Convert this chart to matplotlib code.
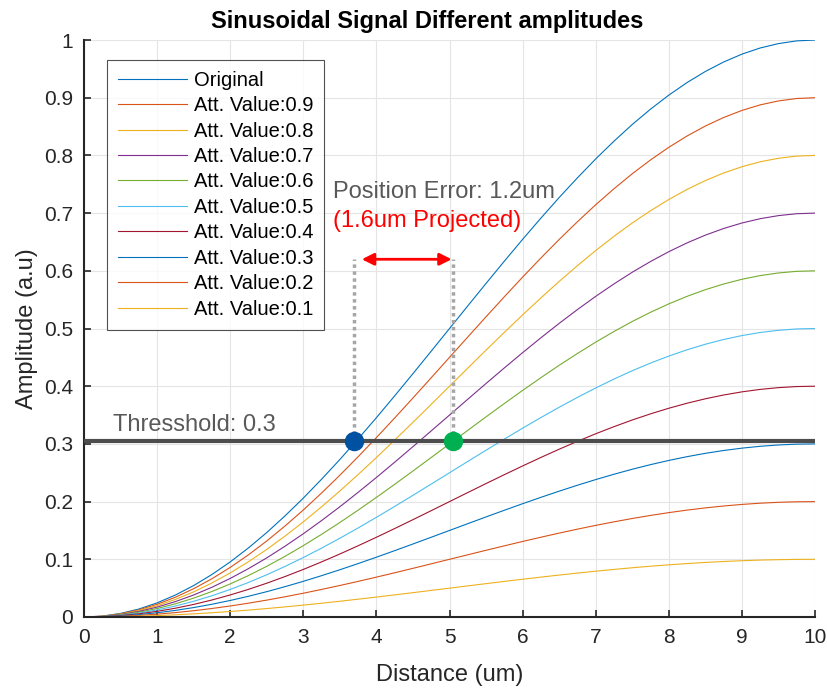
"""
Sinusoidal signal with different attenuation values and a detection threshold.
"""

import numpy as np
import matplotlib.pyplot as plt

plt.rcParams['font.family'] = ['Liberation Sans', 'DejaVu Sans']

# Distance samples (um) and the original (unattenuated) amplitude
distance = [0.0, 0.25, 0.5, 0.75, 1.0, 1.25, 1.5, 1.75, 2.0, 2.25, 2.5, 2.75,
            3.0, 3.25, 3.5, 3.75, 4.0, 4.25, 4.5, 4.75, 5.0, 5.25, 5.5, 5.75,
            6.0, 6.25, 6.5, 6.75, 7.0, 7.25, 7.5, 7.75, 8.0, 8.25, 8.5, 8.75,
            9.0, 9.25, 9.5, 9.75, 10.0]
original = [0.0, 0.0015, 0.0062, 0.0138, 0.0245, 0.0381, 0.0545, 0.0737,
            0.0955, 0.1198, 0.1464, 0.1753, 0.2061, 0.2388, 0.2730, 0.3087,
            0.3455, 0.3833, 0.4218, 0.4608, 0.5, 0.5392, 0.5782, 0.6167,
            0.6545, 0.6913, 0.7270, 0.7612, 0.7939, 0.8247, 0.8536, 0.8802,
            0.9045, 0.9263, 0.9455, 0.9619, 0.9755, 0.9862, 0.9938, 0.9985, 1.0]

att_values = [0.9, 0.8, 0.7, 0.6, 0.5, 0.4, 0.3, 0.2, 0.1]

threshold = 0.305
cross_original = 3.7   # where the original crosses the threshold
cross_attenuated = 5.05  # where Att. 0.6 crosses the threshold
marker_top = 0.62

# MATLAB default colour order
colors = ['#0072BD', '#D95319', '#EDB120', '#7E2F8E', '#77AC30',
          '#4DBEEE', '#A2142F']


def main():
    fig = plt.figure(figsize=(8.27, 6.9), dpi=100)
    ax = fig.add_axes([0.1016, 0.1058, 0.8839, 0.8362])

    x = np.array(distance)
    y0 = np.array(original)

    ax.plot(x, y0, color=colors[0], linewidth=0.8, label='Original')
    for i, att in enumerate(att_values):
        ax.plot(x, att * y0, color=colors[(i + 1) % len(colors)],
                linewidth=0.8, label=f'Att. Value:{att}')

    # Threshold line
    ax.plot([0, 10], [threshold, threshold], color='#4D4D4D', linewidth=3,
            solid_capstyle='butt', zorder=3)
    ax.text(0.4, 0.333, 'Thresshold: 0.3', color='#595959', fontsize=17,
            va='center', ha='left')

    # Dotted guides up from the crossing points
    for xc in (cross_original, cross_attenuated):
        ax.plot([xc, xc], [threshold, marker_top], color='#A6A6A6',
                linewidth=2.5, linestyle=(0, (1, 1)), zorder=2)

    ax.plot(cross_original, threshold, 'o', color='#0051A2', markersize=13,
            zorder=4)
    ax.plot(cross_attenuated, threshold, 'o', color='#00B050', markersize=13,
            zorder=4)

    # Error arrow
    ax.annotate('', xy=(5.03, marker_top), xytext=(3.8, marker_top),
                arrowprops=dict(arrowstyle='<|-|>', color='#FF0000', lw=2,
                                mutation_scale=18, shrinkA=0, shrinkB=0))
    ax.text(3.4, 0.737, 'Position Error: 1.2um', color='#595959', fontsize=17,
            va='center', ha='left')
    ax.text(3.4, 0.687, '(1.6um Projected)', color='#FF0000', fontsize=17,
            va='center', ha='left')

    ax.set_xlim(0, 10)
    ax.set_ylim(0, 1)
    ax.set_xticks(np.arange(0, 11, 1))
    ax.set_yticks(np.arange(0, 1.01, 0.1))
    ax.set_yticklabels(['0', '0.1', '0.2', '0.3', '0.4', '0.5', '0.6', '0.7',
                        '0.8', '0.9', '1'])
    ax.tick_params(direction='in', length=5, width=1.2, labelsize=15,
                   colors='#262626', pad=8)
    ax.grid(True, color='#E5E5E5', linewidth=0.8)
    ax.set_axisbelow(True)
    for side in ('top', 'right'):
        ax.spines[side].set_visible(False)
    for side in ('left', 'bottom'):
        ax.spines[side].set_linewidth(1.5)
        ax.spines[side].set_color('#262626')

    ax.set_xlabel('Distance (um)', fontsize=17, color='#262626', labelpad=12)
    ax.set_ylabel('Amplitude (a.u)', fontsize=17, color='#262626', labelpad=4)
    ax.set_title('Sinusoidal Signal Different amplitudes', fontsize=17,
                 fontweight='bold', pad=9, x=0.469)

    leg = ax.legend(loc='upper left', bbox_to_anchor=(0.0315, 0.966),
                    fontsize=14.5, frameon=True, fancybox=False,
                    edgecolor='#262626', handlelength=3.4, handletextpad=0.35,
                    borderpad=0.55, borderaxespad=0, labelspacing=0.32)
    leg.get_frame().set_linewidth(0.8)

    fig.savefig('out.png', dpi=100)


if __name__ == '__main__':
    main()
